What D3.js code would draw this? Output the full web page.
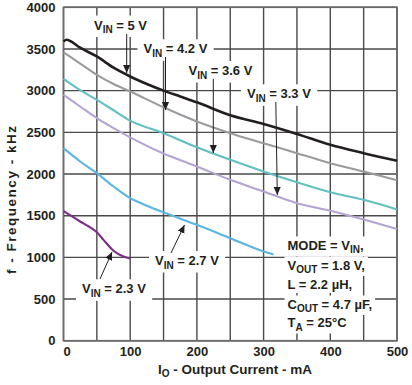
<!DOCTYPE html>
<html><head><meta charset="utf-8">
<script src="https://cdn.jsdelivr.net/npm/d3@7"></script>
<style>
html,body{margin:0;padding:0;background:#fff;}
svg text{font-family:"Liberation Sans",Arial,sans-serif;font-weight:bold;fill:#231f20;}
</style></head>
<body>
<svg id="c" width="412" height="385"></svg>
<script>
// ---- data ----
const xTicks = [0,100,200,300,400,500];
const yTicks = [0,500,1000,1500,2000,2500,3000,3500,4000];

const io5  = [0,5,10,25,50,75,100,125,150,175,200,250,300,350,400,450,500];
const f5   = [3590,3610,3595,3515,3410,3275,3170,3080,3000,2930,2860,2705,2600,2480,2350,2250,2160];

const io42 = [0,25,50,75,100,150,200,250,300,350,400,450,500];
const f42  = [3460,3325,3190,3080,2990,2800,2630,2490,2370,2250,2130,2030,1925];

const io36 = [0,25,50,75,100,150,200,250,300,350,400,450,500];
const f36  = [3140,3005,2890,2765,2640,2490,2320,2170,2030,1900,1780,1690,1575];

const io33 = [0,25,50,75,100,150,200,250,300,350,400,450,500];
const f33  = [2950,2810,2670,2550,2440,2245,2090,1930,1790,1650,1560,1455,1340];

const io27 = [0,25,50,75,100,125,150,200,250,300,315];
const f27  = [2310,2150,2010,1850,1710,1620,1540,1390,1230,1070,1035];

const io23 = [0,25,50,60,75,90,100];
const f23  = [1555,1430,1300,1210,1080,1010,985];

const seriesNames = ["5 V","4.2 V","3.6 V","3.3 V","2.7 V","2.3 V"];
const seriesColors = ["#231f20","#9a9b9e","#62c0c0","#b3a4d2","#5bb6e2","#7d2a88"];

// ---- layout ----
const svg = d3.select("#c");
const x = d3.scaleLinear().domain([0,500]).range([63.5,397]);
const y = d3.scaleLinear().domain([0,4000]).range([340.7,7.3]);

// grid
const g = svg.append("g");
g.selectAll("line.v").data(d3.range(0,501,50)).enter().append("line")
  .attr("x1",d=>x(d)).attr("x2",d=>x(d)).attr("y1",y(0)).attr("y2",y(4000))
  .attr("stroke","#4a4a4a").attr("stroke-width",1.4);
g.selectAll("line.h").data(yTicks).enter().append("line")
  .attr("x1",x(0)).attr("x2",x(500)).attr("y1",d=>y(d)).attr("y2",d=>y(d))
  .attr("stroke","#4a4a4a").attr("stroke-width",1.4);
g.append("rect").attr("x",x(0)).attr("y",y(4000)).attr("width",x(500)-x(0)).attr("height",y(0)-y(4000))
  .attr("fill","none").attr("stroke","#6a6a6a").attr("stroke-width",1.6);

// axes labels via d3 axes
const xAxis = svg.append("g").attr("transform",`translate(0,${y(0)})`)
  .call(d3.axisBottom(x).tickValues(xTicks).tickSize(0).tickPadding(6).tickFormat(d3.format("d")));
xAxis.select(".domain").remove();
xAxis.selectAll("text").attr("font-size",13).attr("font-family",null).attr("dy","0.71em")
  .attr("dx",d=>d===0?3:0);
const yAxis = svg.append("g").attr("transform",`translate(${x(0)},0)`)
  .call(d3.axisLeft(y).tickValues(yTicks).tickSize(0).tickPadding(8).tickFormat(d3.format("d")));
yAxis.select(".domain").remove();
yAxis.selectAll("text").attr("font-size",13).attr("font-family",null);

// curves
const allSeries = [[io5,f5],[io42,f42],[io36,f36],[io33,f33],[io27,f27],[io23,f23]];
const line = d3.line().x(d=>x(d[0])).y(d=>y(d[1])).curve(d3.curveMonotoneX);
allSeries.forEach((s,i)=>{
  const pts = s[0].map((v,j)=>[v,s[1][j]]);
  svg.append("path").datum(pts).attr("d",line).attr("fill","none")
    .attr("stroke",seriesColors[i]).attr("stroke-width",i===0?2.6:2.1)
    .attr("stroke-linejoin","round");
});

// helper for text with subscript
function subText(parent, xx, yy, parts, anchor){
  const t = parent.append("text").attr("x",xx).attr("y",yy).attr("font-size",13)
    .attr("text-anchor",anchor||"start");
  let shift = 0;
  parts.forEach(p=>{
    const ts = t.append("tspan").text(p.t);
    if(p.sub){ ts.attr("font-size",10).attr("dy",3.5-shift); shift=3.5; }
    else { ts.attr("dy",-shift); shift=0; }
  });
  return t;
}

const annot = svg.append("g");
const annotText = svg.append("g");

// arrow marker
svg.append("defs").append("marker").attr("id","ah").attr("viewBox","0 0 10 10")
  .attr("refX",10).attr("refY",5).attr("markerWidth",8).attr("markerHeight",8)
  .attr("markerUnits","userSpaceOnUse").attr("orient","auto")
  .append("path").attr("d","M0,0.5 L10,5 L0,9.5 Z").attr("fill","#231f20");

const labels = [
  {n:"5 V",   x:94,  y:29.5, a:[126.7,34,126.7,73]},
  {n:"4.2 V", x:143.5,y:53.3, a:[165.5,57,165.5,110]},
  {n:"3.6 V", x:188.5,y:75,  a:[213.3,79,213.3,153]},
  {n:"3.3 V", x:247, y:98.3, a:[275.8,102,277.3,195]},
  {n:"2.7 V", x:155, y:265,  a:[171,253,184.5,225]},
  {n:"2.3 V", x:82,  y:293.3,a:[100,279,112,252]}
];
labels.forEach(L=>{
  const t = subText(annotText, L.x, L.y, [{t:"V"},{t:"IN",sub:true},{t:" = "+L.n}]);
  const b = t.node().getBBox();
  annot.append("rect").attr("x",b.x-6).attr("y",b.y-2).attr("width",b.width+12).attr("height",b.height+4).attr("fill","#fff");
  annotText.append("line").attr("x1",L.a[0]).attr("y1",L.a[1]).attr("x2",L.a[2]).attr("y2",L.a[3])
    .attr("stroke","#231f20").attr("stroke-width",1).attr("marker-end","url(#ah)");
});

// conditions box
const cond = [
  [{t:"MODE = V"},{t:"IN",sub:true},{t:","}],
  [{t:"V"},{t:"OUT",sub:true},{t:" = 1.8 V,"}],
  [{t:"L = 2.2 \u00b5H,"}],
  [{t:"C"},{t:"OUT",sub:true},{t:" = 4.7 \u00b5F,"}],
  [{t:"T"},{t:"A",sub:true},{t:" = 25\u00b0C"}]
];
const condY = [249.5,269.5,289,308.5,327];
cond.forEach((parts,i)=>{
  const t = subText(annotText, 287.5, condY[i], parts);
  const b = t.node().getBBox();
  annot.append("rect").attr("x",b.x-3).attr("y",b.y-1).attr("width",b.width+6).attr("height",b.height+2).attr("fill","#fff");
});

// axis titles
subText(svg, 235, 373.5, [{t:"I"},{t:"O",sub:true},{t:" - Output Current - mA"}], "middle").attr("font-size",13.5);
svg.append("text").attr("transform","translate(16,200) rotate(-90)").attr("text-anchor","middle")
  .attr("font-size",13.5).attr("textLength",148).attr("lengthAdjust","spacing")
  .text("f - Frequency - kHz");
</script>
</body></html>
